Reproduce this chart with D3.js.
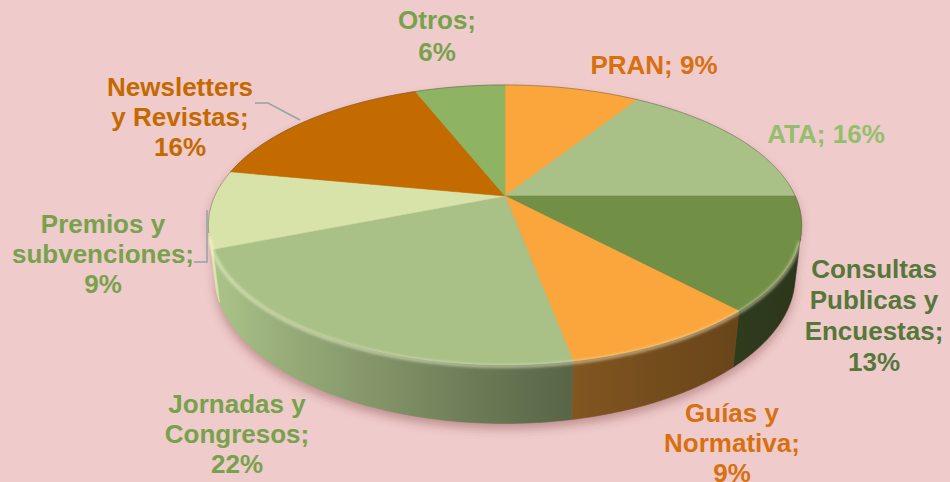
<!DOCTYPE html>
<html>
<head>
<meta charset="utf-8">
<script src="https://cdn.jsdelivr.net/npm/d3@7/dist/d3.min.js"></script>
<style>
  html, body { margin: 0; padding: 0; background: #efcbcb; }
  svg { display: block; }
  text { font-family: "Liberation Sans", Arial, sans-serif; font-weight: bold; }
</style>
</head>
<body>
<svg id="chart" width="950" height="482"></svg>
<script>
// ---- data ----
const categories = ["PRAN", "ATA", "Consultas Publicas y Encuestas", "Guías y Normativa",
                    "Jornadas y Congresos", "Premios y subvenciones", "Newsletters y Revistas", "Otros"];
const values = [9, 16, 13, 9, 22, 9, 16, 6];
const sliceColors = ["#fba63d", "#a9c087", "#728f46", "#fba63d", "#a9c087", "#d8e3aa", "#c46b00", "#8db363"];
const labelColors = ["#d8700f", "#93bf6c", "#55773a", "#d8700f", "#77a24b", "#77a24b", "#c46900", "#77a24b"];
// words per line for each label "<name>; <value>%"
const labelWrap = [[2], [2], [1, 2, 1, 1], [2, 1, 1], [2, 1, 1], [2, 1, 1], [1, 2, 1], [1, 1]];
// label anchor: centre x, first baseline y, line height
const labelPos = [[654, 74, 31], [826, 143, 31], [874, 278, 31], [732, 422, 30],
                  [237, 413, 30], [103, 233, 30], [180, 96, 30], [437, 29, 32]];

// ---- 3D projection of the pie disk ----
const cx = 505, cy = 196, f = 1248, D = 4.3, sT = 0.4615, cT = Math.sqrt(1 - sT * sT), H = 0.2;
function proj(theta, r, depthY) {
  const X = r * Math.sin(theta), Z = -r * Math.cos(theta), Y = depthY * H;
  const ycam = Z * sT + Y * cT;
  const dep = D - Z * cT + Y * sT;
  return [cx + f * X / dep, cy + f * ycam / dep];
}
// visible side range: cos(theta) < -1/(D*cT)
const tv = Math.acos(-1 / (D * cT));
const vis0 = tv, vis1 = 2 * Math.PI - tv;

const svg = d3.select("#chart");
const defs = svg.append("defs");

const pie = d3.pie().sort(null).value(d => d)(values);

function rimPoints(a0, a1, depthY) {
  const n = Math.max(2, Math.ceil(Math.abs(a1 - a0) / 0.01));
  const pts = [];
  for (let i = 0; i <= n; i++) pts.push(proj(a0 + (a1 - a0) * i / n, 1, depthY));
  return pts;
}
const line = d3.line();

// filters
const blur = defs.append("filter").attr("id", "blur").attr("x", "-20%").attr("y", "-20%").attr("width", "140%").attr("height", "140%");
blur.append("feGaussianBlur").attr("stdDeviation", 5);
const blurS = defs.append("filter").attr("id", "blurS").attr("x", "-20%").attr("y", "-20%").attr("width", "140%").attr("height", "140%");
blurS.append("feGaussianBlur").attr("stdDeviation", 1.5);

// drop shadow
const shadowPts = rimPoints(vis0 - 0.1, vis1 + 0.1, 1).map(p => [p[0], p[1] + 6]);
const topBack = rimPoints(vis1 + 0.1, vis0 - 0.1 + 2 * Math.PI, 0).map(p => [p[0], p[1] + 6]);
svg.append("path")
  .attr("d", line(shadowPts.concat(topBack)) + "Z")
  .attr("fill", "rgba(120,60,60,0.38)")
  .attr("filter", "url(#blur)");

// side faces
const leftX = proj(vis1, 1, 0.5)[0], rightX = proj(vis0, 1, 0.5)[0];
function shade(col, k) {
  const c = d3.rgb(col);
  return d3.rgb(c.r * k, c.g * k, c.b * k).toString();
}
pie.forEach((p, i) => {
  const a0 = Math.max(p.startAngle, vis0), a1 = Math.min(p.endAngle, vis1);
  if (a1 <= a0) return;
  const gid = "side" + i;
  const g = defs.append("linearGradient").attr("id", gid)
    .attr("gradientUnits", "userSpaceOnUse")
    .attr("x1", leftX).attr("x2", rightX).attr("y1", 0).attr("y2", 0);
  [[0, 1.02], [0.12, 0.9], [0.45, 0.64], [0.65, 0.5], [1, 0.38]].forEach(([o, k]) =>
    g.append("stop").attr("offset", o).attr("stop-color", shade(sliceColors[i], k)));
  const top = rimPoints(a0, a1, 0), bot = rimPoints(a1, a0, 1);
  svg.append("path").attr("d", line(top.concat(bot)) + "Z")
    .attr("fill", `url(#${gid})`).attr("stroke", `url(#${gid})`).attr("stroke-width", 0.6);
});

// top faces
pie.forEach((p, i) => {
  const pts = [[cx, cy]].concat(rimPoints(p.startAngle, p.endAngle, 0));
  svg.append("path").attr("d", line(pts) + "Z")
    .attr("fill", sliceColors[i]).attr("stroke", sliceColors[i]).attr("stroke-width", 0.6);
});

// thin outline on back rim
svg.append("path").attr("d", line(rimPoints(vis1, vis0 + 2 * Math.PI, 0)))
  .attr("fill", "none").attr("stroke", "rgba(90,80,70,0.45)").attr("stroke-width", 1);

// bevel highlight on front rim
svg.append("path").attr("d", line(rimPoints(vis0 + 0.05, vis1 - 0.02, 0).map(p => [p[0], p[1] + 1.5])))
  .attr("fill", "none").attr("stroke", "rgba(255,255,220,0.55)").attr("stroke-width", 3)
  .attr("filter", "url(#blurS)");

// leader lines
svg.append("polyline").attr("points", "255,103 268,103 300,120")
  .attr("fill", "none").attr("stroke", "#97a3a8").attr("stroke-width", 1.5);
svg.append("polyline").attr("points", "207,210 207,262 194,262")
  .attr("fill", "none").attr("stroke", "#97a3a8").attr("stroke-width", 1.5);

// labels
categories.forEach((name, i) => {
  const words = `${name}; ${values[i]}%`.split(" ");
  const lines = [];
  let k = 0;
  labelWrap[i].forEach(n => { lines.push(words.slice(k, k + n).join(" ")); k += n; });
  const [x, y, lh] = labelPos[i];
  const t = svg.append("text").attr("text-anchor", "middle").attr("font-size", 26)
    .attr("fill", labelColors[i]);
  lines.forEach((l, j) => t.append("tspan").attr("x", x).attr("y", y + j * lh).text(l));
});
</script>
</body>
</html>
